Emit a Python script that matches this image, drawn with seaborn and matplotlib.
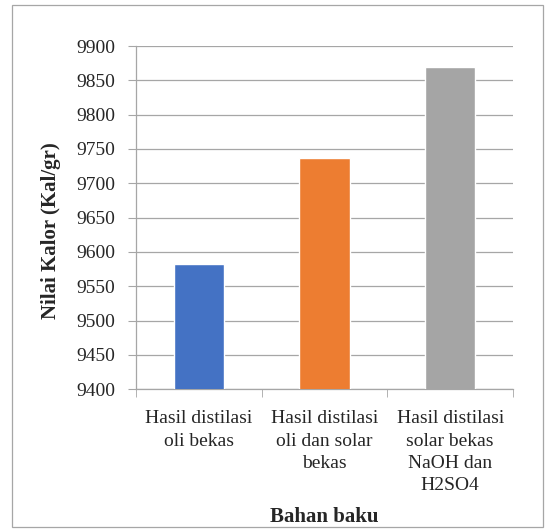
import matplotlib
matplotlib.use('Agg')
import pandas as pd
import matplotlib.pyplot as plt
import seaborn as sns
from matplotlib.patches import Rectangle

categories = ['Hasil distilasi oli bekas',
              'Hasil distilasi oli dan solar bekas',
              'Hasil distilasi solar bekas NaOH dan H2SO4']
tick_labels = ['Hasil distilasi\noli bekas',
               'Hasil distilasi\noli dan solar\nbekas',
               'Hasil distilasi\nsolar bekas\nNaOH dan\nH2SO4']
nilai_kalor = [9583, 9737, 9869]
colors = ['#4472C4', '#ED7D31', '#A5A5A5']

data = pd.DataFrame({'bahan': categories, 'kalor': nilai_kalor})

sns.set_style('white')
plt.rcParams['font.family'] = ['Liberation Serif', 'DejaVu Serif']

fig = plt.figure(figsize=(5.49, 5.30), dpi=100)
ax = fig.add_axes([0.2477, 0.2655, 0.6867, 0.6477])

sns.barplot(ax=ax, x='bahan', y='kalor', hue='bahan', data=data,
            palette=colors, width=0.4, legend=False, saturation=1, zorder=3)

ax.set_ylim(9400, 9900)
ax.set_yticks(range(9400, 9901, 50))
ax.yaxis.grid(True, color='#A6A6A6', linewidth=0.9, zorder=0)
ax.set_axisbelow(True)
ax.tick_params(axis='y', length=6, color='#A6A6A6', labelsize=14, pad=9, left=True)

ax.set_xlim(-0.5, 2.5)
ax.set_xticks([0, 1, 2])
ax.set_xticklabels(tick_labels, linespacing=1.42)
ax.set_xticks([-0.5, 0.5, 1.5, 2.5], minor=True)
ax.tick_params(axis='x', which='major', length=0, labelsize=14, pad=15)
ax.tick_params(axis='x', which='minor', length=6, color='#A6A6A6', bottom=True)

for side in ['top', 'right']:
    ax.spines[side].set_visible(False)
for side in ['left', 'bottom']:
    ax.spines[side].set_color('#A6A6A6')
    ax.spines[side].set_linewidth(0.9)

ax.set_ylabel('Nilai Kalor (Kal/gr)', fontsize=15, fontweight='bold')
ax.yaxis.set_label_coords(-0.20, 0.461)
ax.set_xlabel('')
fig.text(0.590, 0.0151, 'Bahan baku', ha='center', va='baseline',
         fontsize=15, fontweight='bold')

fig.patches.append(Rectangle((0.022, 0.006), 0.967, 0.985, transform=fig.transFigure,
                             fill=False, edgecolor='#A6A6A6', linewidth=0.9))

fig.savefig('out.png', dpi=100)
